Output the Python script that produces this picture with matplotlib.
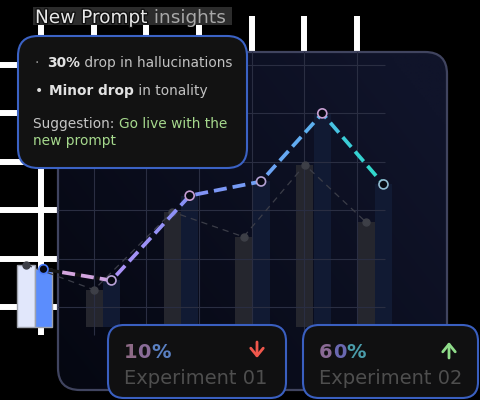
import numpy as np
import matplotlib.pyplot as plt
import matplotlib.transforms as mtransforms
import matplotlib.patheffects as pe
from matplotlib.patches import FancyBboxPatch, Rectangle
from matplotlib.colors import LinearSegmentedColormap

plt.rcParams['font.family'] = ['DejaVu Sans']

# ---- data ----
x_pos = [0.0, 1.0, 2.15, 3.2, 4.1, 5.0]
old_prompt = [12.7, 7.6, 23.5, 18.4, 33.1, 21.4]     # gray bars / gray dashed line
new_prompt = [11.8, 9.5, 26.8, 29.7, 43.6, 29.1]     # blue bars / gradient dashed line

title_main = "New Prompt"
title_rest = " insights"
insight_1 = ("30%", " drop in hallucinations")
insight_2 = ("Minor drop", " in tonality")
suggestion = ("Suggestion: ", "Go live with the", "new prompt")

exp_names = ["Experiment 01", "Experiment 02"]
exp_pcts = ["10%", "60%"]
exp_dirs = ["down", "up"]

# ---- figure ----
fig = plt.figure(figsize=(4.8, 4.0), dpi=100, facecolor='black')
ax = fig.add_axes([0, 0, 1, 1])
ax.set_facecolor('black')
ax.set_axis_off()
XLIM = (-26 / 68, 454 / 68)
YLIM = (-73 / 4.9, 327 / 4.9)
ax.set_xlim(*XLIM)
ax.set_ylim(*YLIM)

# pixel coords (origin top-left) for decoration
px = mtransforms.Affine2D().scale(1 / 480, -1 / 400).translate(0, 1) + ax.transAxes

# grid positions
grid_x = np.linspace(0.22, 4.87, 7)
grid_y = 4 + 9.9 * np.arange(6)

# bright grid lines behind everything (only visible outside the panel)
ax.vlines(grid_x, -1.6, 63.5, color='white', lw=4.3, zorder=1)
ax.hlines(grid_y, -0.4, 5.28, color='white', lw=4.3, zorder=1)

# dark panel with a soft gradient
panel = FancyBboxPatch((58, 52), 389, 338, boxstyle="round,pad=0,rounding_size=22",
                       transform=px, facecolor='#0a0d1c', edgecolor='none', zorder=2)
ax.add_patch(panel)
gu, gv = np.meshgrid(np.linspace(0, 1, 200), np.linspace(0, 1, 200))
c0 = np.array([0x05, 0x07, 0x11]) / 255
c1 = np.array([0x10, 0x14, 0x2a]) / 255
tt = np.clip(0.65 * gu + 0.45 * (1 - gv), 0, 1)
img = c0 + (c1 - c0) * tt[..., None]
im = ax.imshow(img, extent=(58, 447, 390, 52), transform=px, zorder=2.1,
               interpolation='bilinear', aspect='auto')
im.set_clip_path(panel)
ax.add_patch(FancyBboxPatch((58, 52), 389, 338, boxstyle="round,pad=0,rounding_size=22",
                            transform=px, facecolor='none', edgecolor='#40445f', lw=1.6, zorder=2.2))

# bars
bw = 0.25
off = 0.257
gray_cols = ['#e1e7fb'] + ['#25262e'] * (len(x_pos) - 1)
blue_cols = ['#5b8dfd'] + ['#111a33'] * (len(x_pos) - 1)
edge_cols = ['#9fa3ad'] + ['none'] * (len(x_pos) - 1)
ax.bar(x_pos, old_prompt, width=bw, color=gray_cols, edgecolor=edge_cols, lw=1, zorder=3)
ax.bar(np.array(x_pos) + off, new_prompt, width=bw, color=blue_cols, edgecolor=edge_cols, lw=1, zorder=3)

# faint grid inside the panel
vl = ax.vlines(grid_x, -1.6, 63.5, color='#2a2e42', lw=0.8, zorder=4)
hl = ax.hlines(grid_y, -0.4, 5.28, color='#2a2e42', lw=0.8, zorder=4)
vl.set_clip_path(panel)
hl.set_clip_path(panel)

# gray dashed line
ax.plot(x_pos, old_prompt, color='#3b3d48', lw=0.9, dashes=(5, 4), zorder=5)
ax.plot(x_pos, old_prompt, 'o', color='#3d3f47', ms=5, zorder=5.1)

# gradient dashed line for the new prompt, one short line per dash
bx = np.array(x_pos) + off
by = np.array(new_prompt)
ax.plot(bx[:2], by[:2], color='#151515', lw=2.4, dashes=(5, 3), zorder=5.5)
disp = ax.transData.transform(np.column_stack([bx, by]))
cum = np.concatenate([[0], np.cumsum(np.hypot(*np.diff(disp, axis=0).T))])
cmap = LinearSegmentedColormap.from_list('np', [
    (0, '#d8a8de'), (0.14, '#cfa4e0'), (0.17, '#ac92f6'), (0.41, '#8690f6'),
    (0.58, '#6fa0f4'), (0.79, '#58b4ee'), (0.86, '#3ccbd8'), (1, '#2edbc8')])
period, dash = 19, 13
start = 0.0
while start < cum[-1]:
    stop = min(start + dash, cum[-1])
    s = np.concatenate([[start], cum[(cum > start) & (cum < stop)], [stop]])
    d = np.column_stack([np.interp(s, cum, disp[:, 0]), np.interp(s, cum, disp[:, 1])])
    dd = ax.transData.inverted().transform(d)
    ln, = ax.plot(dd[:, 0], dd[:, 1], color=cmap((start + stop) / 2 / cum[-1]), lw=2.7,
                  solid_capstyle='butt', solid_joinstyle='miter', zorder=6)
    ln.set_clip_path(panel)
    start += period
ring_cols = ['#4a7dff', '#b9a2d8', '#c59cd2', '#b4a2d4', '#c8a0d2', '#92bcd2']
ax.scatter(bx, by, s=42, facecolor='#070912', edgecolors=ring_cols, lw=1.2, zorder=7)

# ---- insight card ----
ax.add_patch(FancyBboxPatch((18, 36), 229, 132, boxstyle="round,pad=0,rounding_size=20",
                            transform=px, facecolor='#121212', edgecolor='#3b62c4', lw=1.5, zorder=8))


def rich(x, y, parts, size):
    t = ax.text(x, y, parts[0][0], transform=px, color=parts[0][1], fontsize=size,
                fontweight=parts[0][2], va='baseline', ha='left', zorder=9)
    for txt, col, w in parts[1:]:
        t = ax.annotate(txt, xy=(1, 0), xycoords=t, color=col, fontsize=size,
                        fontweight=w, va='bottom', ha='left', zorder=9)
    return t


ax.text(35, 67, "·", transform=px, color='#9a9a9a', fontsize=10, va='baseline', zorder=9)
rich(47, 67, [(insight_1[0], '#e2e2e2', 'bold'), (insight_1[1], '#c2c2c2', 'normal')], 9.9)
ax.text(35, 95, "•", transform=px, color='#dddddd', fontsize=10, va='baseline', zorder=9)
rich(49, 95, [(insight_2[0], '#e2e2e2', 'bold'), (insight_2[1], '#c2c2c2', 'normal')], 9.9)
rich(33, 128, [(suggestion[0], '#c6c6c6', 'normal'), (suggestion[1], '#a6d98d', 'normal')], 9.9)
ax.text(33, 145, suggestion[2], transform=px, color='#a6d98d', fontsize=9.9, va='baseline', zorder=9)

# ---- title ----
ax.add_patch(Rectangle((33, 7), 199, 18, transform=px, facecolor='#2c2c2c', edgecolor='none', zorder=8))
tm = ax.text(35, 23, title_main, transform=px, color='#e8e8e8', fontsize=13.3, va='baseline', zorder=9,
             path_effects=[pe.withStroke(linewidth=2, foreground='#111111')])
ax.annotate(title_rest, xy=(1, 0), xycoords=tm, color='#a8a8a8', fontsize=13.3, va='bottom', zorder=9)

# ---- experiment cards ----
card_x = [108, 303]
card_w = [178, 175]
pct_cols = [['#8d6a86', '#8a6c98', '#5a80c2'], ['#8a6a95', '#6a68b0', '#4a9caa']]
arrow_cols = {'down': '#f0574c', 'up': '#8fdc8a'}
for i in range(len(exp_names)):
    x0 = card_x[i]
    ax.add_patch(FancyBboxPatch((x0, 325), card_w[i], 73, boxstyle="round,pad=0,rounding_size=16",
                                transform=px, facecolor='#101011', edgecolor='#3a5fc0', lw=1.5, zorder=8))
    rich(x0 + 16, 358, [(ch, pct_cols[i][k], 'bold') for k, ch in enumerate(exp_pcts[i])], 14)
    ax.text(x0 + 16, 384, exp_names[i], transform=px, color='#4e4e4e', fontsize=14, va='baseline', zorder=9)
    ax_x = x0 + card_w[i] - 29
    if exp_dirs[i] == 'down':
        a, b = (ax_x, 342), (ax_x, 358)
    else:
        a, b = (ax_x, 358), (ax_x, 342)
    ax.annotate('', xy=b, xytext=a, xycoords=px, textcoords=px, zorder=9,
                arrowprops=dict(arrowstyle='->,head_length=0.55,head_width=0.45',
                                color=arrow_cols[exp_dirs[i]], lw=2.0,
                                shrinkA=0, shrinkB=0))

ax.set_xlim(*XLIM)
ax.set_ylim(*YLIM)
fig.savefig('out.png', dpi=100, facecolor='black')
